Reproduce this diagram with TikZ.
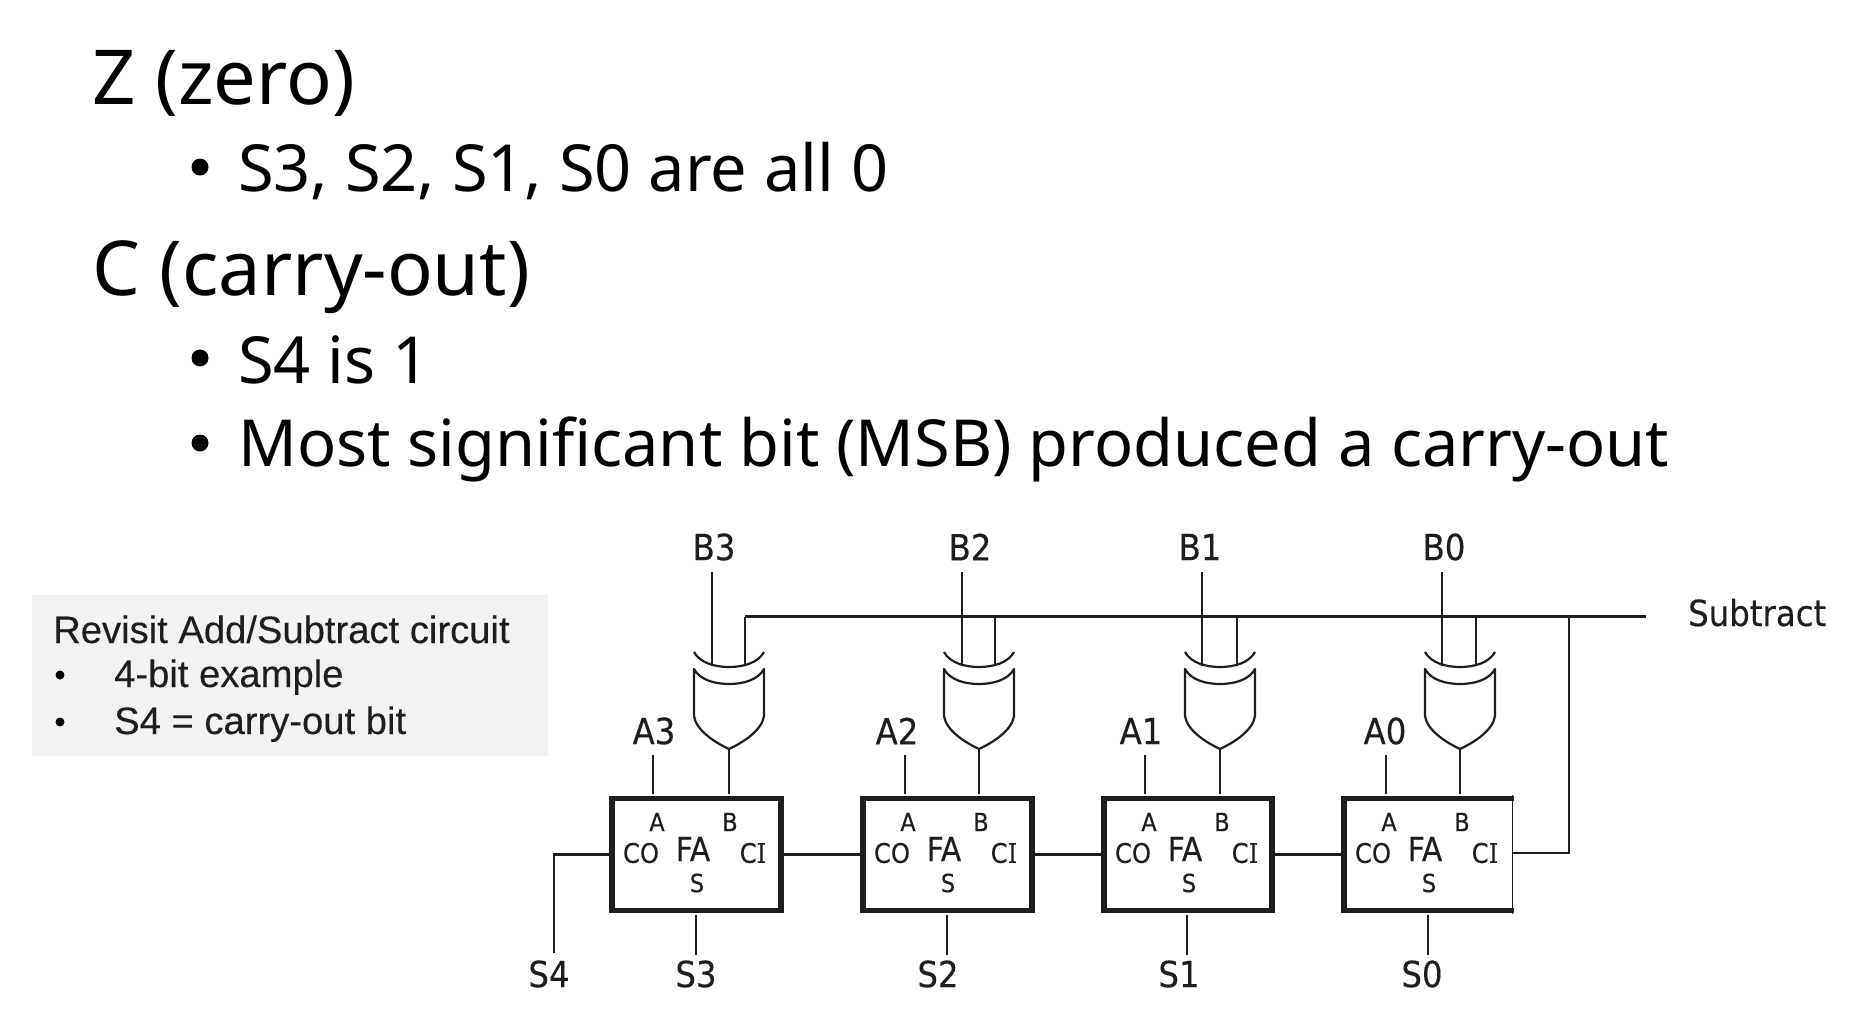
\documentclass[tikz,border=0pt]{standalone}
\usepackage{fontspec}
\setmainfont{Noto Sans}
\newfontfamily\circfont[FakeBold=0.3]{DejaVu Sans Condensed}
\newfontfamily\circserif[FakeBold=0.3]{DejaVu Serif Condensed}
\newfontfamily\notefont[FakeBold=0.2]{Liberation Sans}
\definecolor{inkc}{HTML}{1E1E1E}
\definecolor{notebg}{HTML}{F2F2F2}
\tikzset{
  head/.style={anchor=base west,inner sep=0pt,font=\fontsize{75.8}{76}\selectfont,text=black},
  bodytext/.style={anchor=base west,inner sep=0pt,font=\fontsize{64.9}{65}\selectfont,text=black},
  bulletdot/.style={circle,fill=black,inner sep=0pt,minimum size=17pt},
  notetext/.style={anchor=base west,inner sep=0pt,font=\notefont\fontsize{38.2}{38}\selectfont,text=inkc},
  notedot/.style={circle,fill=black,inner sep=0pt,minimum size=9pt},
  pinlabel/.style={inner sep=0pt,font=\circfont\fontsize{36}{36}\selectfont,text=inkc},
  faport/.style={inner sep=0pt,font=\circfont\fontsize{25}{25}\selectfont,text=inkc},
  faco/.style={inner sep=0pt,font=\circfont\fontsize{27}{27}\selectfont,text=inkc},
  fatitle/.style={inner sep=0pt,font=\circfont\fontsize{33}{33}\selectfont,text=inkc},
  fabox/.style={draw=inkc,line width=5.5pt,fill=white,inner sep=0pt,minimum height=112pt},
  wire/.style={draw=inkc,line width=2.4pt},
  gateline/.style={draw=inkc,line width=2.2pt,line join=round},
}
\begin{document}
\begin{tikzpicture}[x=1pt,y=-1pt]
\useasboundingbox (0,0) rectangle (1854,1012);
% slide text
\node[head] (hz) at (92,104) {Z (zero)};
\node[bulletdot] (bz) at (200,167) {};
\node[bodytext] (tz) at (238,191.5) {S3, S2, S1, S0 are all 0};
\node[head] (hc) at (92,295.5) {C (carry-out)};
\node[bulletdot] (bc1) at (200,358) {};
\node[bodytext] (tc1) at (238,383) {S4 is 1};
\node[bulletdot] (bc2) at (200,443) {};
\node[bodytext] (tc2) at (238,466) {Most significant bit (MSB) produced a carry-out};
% note box
\node[fill=notebg,inner sep=0pt,minimum width=516pt,minimum height=161pt,anchor=north west] (note) at (32,595) {};
\node[notetext] (n0) at (53,643) {Revisit Add/Subtract circuit};
\node[notedot] (nd1) at (60,675) {};
\node[notetext] (n1) at (114,687) {4-bit example};
\node[notedot] (nd2) at (60,722) {};
\node[notetext] (n2) at (114,734) {S4 = carry-out bit};
% full adders: index / left / right / gate centre / B wire / tap / A wire / S wire / B label / A label / S label
\foreach \i/\lft/\rgt/\cx/\bwx/\tpx/\awx/\swx/\blab/\alab/\slab in {
  3/612/781/729/712/745/653/696/714/654/696,
  2/863/1032/979/962/995/905/947/970/897/938,
  1/1104/1272/1220/1202/1237/1145/1187/1200/1141/1179,
  0/1344/1511/1460/1442/1476/1386/1428/1444/1385/1422}{
  \pgfmathsetmacro{\boxw}{\rgt-\lft}
  \pgfmathsetmacro{\boxm}{(\lft+\rgt)/2}
  \node[fabox,minimum width=\boxw pt] (fa\i) at (\boxm,854.5) {};
  \node[faport] (pa\i) at (\lft+45,822) {A};
  \node[faport] (pb\i) at (\lft+118,822) {B};
  \node[faco] (pco\i) at (\lft+29,853) {CO};
  \node[fatitle] (pfa\i) at (\lft+81,849) {FA};
  \node[faco] (pci\i) at (\lft+141,853) {C{\circserif I}};
  \node[faport] (ps\i) at (\lft+85,883) {S};
  % XOR gate
  \draw[gateline] (\cx-35,652) .. controls (\cx-29,663) and (\cx-14,667) .. (\cx,667)
     .. controls (\cx+14,667) and (\cx+29,663) .. (\cx+35,652);
  \draw[gateline,fill=white] (\cx-35,669) .. controls (\cx-29,680) and (\cx-14,684) .. (\cx,684)
     .. controls (\cx+14,684) and (\cx+29,680) .. (\cx+35,669)
     -- (\cx+35,716) .. controls (\cx+33,730) and (\cx+15,742) .. (\cx,749)
     .. controls (\cx-15,742) and (\cx-33,730) .. (\cx-35,716) -- cycle;
  \coordinate (gout\i) at (\cx,749);
  \coordinate (gin\i) at (\bwx,666);
  \coordinate (gtap\i) at (\tpx,666);
  \coordinate (btop\i) at (\bwx,572);
  \coordinate (stap\i) at (\tpx,616.5);
  \coordinate (atop\i) at (\awx,755);
  \coordinate (abot\i) at (\awx,794);
  \coordinate (bbot\i) at (\cx,794);
  \coordinate (stop\i) at (\swx,915);
  \coordinate (sbot\i) at (\swx,955);
  \draw[wire] (btop\i) -- (gin\i);
  \draw[wire] (stap\i) -- (gtap\i);
  \draw[wire] (gout\i) -- (bbot\i);
  \draw[wire] (atop\i) -- (abot\i);
  \draw[wire] (stop\i) -- (sbot\i);
  \node[pinlabel] (lb\i) at (\blab,547) {B\i};
  \node[pinlabel] (la\i) at (\alab,731) {A\i};
  \node[pinlabel] (ls\i) at (\slab,974) {S\i};
}
% thin right border of the last adder
\draw[line width=5.5pt,draw=white] (1511,801) -- (1511,908);
\draw[line width=1.6pt,draw=inkc] (1512.5,795) -- (1512.5,914);
% subtract line
\node[pinlabel,anchor=base west] (lsub) at (1688,626) {Subtract};
\coordinate (subend) at (1646,616.5);
\coordinate (subci) at (1569,616.5);
\coordinate (ci0) at (1513,853);
\draw[wire] (subend) -- (stap3);
\draw[wire] (subci) |- (ci0);
% carry chain
\draw[wire] (fa1.east) -- (fa0.west);
\draw[wire] (fa2.east) -- (fa1.west);
\draw[wire] (fa3.east) -- (fa2.west);
% S4
\node[pinlabel] (ls4) at (549,974) {S4};
\coordinate (s4bot) at (554,953);
\draw[wire] (fa3.west) -| (s4bot);
\end{tikzpicture}
\end{document}
